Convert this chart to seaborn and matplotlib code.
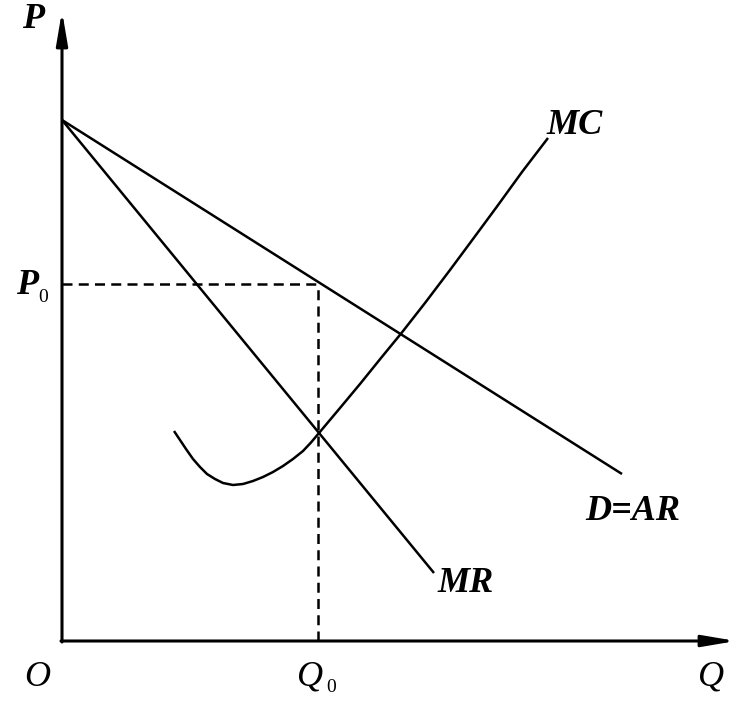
import numpy as np
import pandas as pd
import matplotlib
matplotlib.use("Agg")
import matplotlib.pyplot as plt
import seaborn as sns

# curve values (1 unit = 50 px of the original)
demand_q = [0.0, 11.2]
demand_p = [10.42, 3.34]

mr_q = [0.0, 7.44]
mr_p = [10.42, 1.36]

mc_q = [2.24, 2.36, 2.48, 2.62, 2.76, 2.90, 3.06, 3.22, 3.42, 3.62, 3.82, 4.02,
        4.22, 4.42, 4.62, 4.82, 4.98, 5.14, 5.56, 5.96, 6.38, 6.79, 7.26, 7.76,
        8.22, 8.70, 9.20, 9.72]
mc_p = [4.20, 4.02, 3.84, 3.64, 3.48, 3.34, 3.24, 3.16, 3.12, 3.14, 3.20, 3.28,
        3.38, 3.50, 3.64, 3.80, 3.97, 4.16, 4.66, 5.14, 5.66, 6.16, 6.76, 7.42,
        8.04, 8.69, 9.38, 10.06]

q0 = 5.12
p0 = 7.14

sns.set_style("white")
plt.rcParams["font.family"] = ["Liberation Serif", "DejaVu Serif"]

fig = plt.figure(figsize=(7.51, 7.02), dpi=100)
ax = fig.add_axes([0, 0, 1, 1])
ax.set_xlim(-1.24, 13.78)
ax.set_ylim(-1.22, 12.82)
ax.axis("off")

lw = 1.8
curve = dict(ax=ax, color="black", lw=lw, sort=False,
             solid_joinstyle="round", solid_capstyle="butt")
sns.lineplot(x=demand_q, y=demand_p, **curve)
sns.lineplot(x=mr_q, y=mr_p, **curve)
sns.lineplot(x=mc_q, y=mc_p, **curve)

# dashed guides to P0 and Q0
ax.plot([0, q0], [p0, p0], color="black", lw=1.8, ls=(0, (4, 2.5)))
ax.plot([q0, q0], [0, p0], color="black", lw=1.8, ls=(0, (4, 2.5)))

# axes with arrows
arrow = dict(arrowstyle="-|>,head_length=1.0,head_width=0.17", lw=2.2,
             color="black", mutation_scale=20, shrinkA=0, shrinkB=0)
ax.annotate("", xy=(0, 12.6), xytext=(0, -0.02), arrowprops=arrow)
ax.annotate("", xy=(13.48, 0), xytext=(-0.02, 0), arrowprops=arrow)

bold = dict(fontsize=26, style="italic", weight="bold", ha="center",
            va="center", color="black")
plain = dict(fontsize=26, style="italic", ha="center", va="center",
             color="black")
sub = dict(fontsize=14, ha="center", va="center", color="black")

ax.text(-0.58, 12.42, "P", **bold)
ax.text(-0.70, 7.10, "P", **bold)
ax.text(-0.38, 6.86, "0", **sub)
ax.text(-0.50, -0.72, "O", **plain)
ax.text(4.96, -0.72, "Q", **plain)
ax.text(5.38, -0.92, "0", **sub)
ax.text(12.98, -0.72, "Q", **plain)
ax.text(10.26, 10.32, "MC", **bold)
ax.text(11.42, 2.60, "D=AR", **bold)
ax.text(8.08, 1.14, "MR", **bold)

fig.savefig("out.png", dpi=100)
